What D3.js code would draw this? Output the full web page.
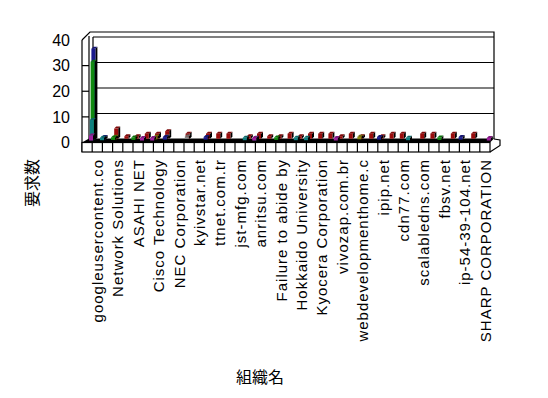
<!DOCTYPE html>
<html lang="ja">
<head>
<meta charset="UTF-8">
<title>組織名別 要求数</title>
<script src="https://cdn.jsdelivr.net/npm/d3@7"></script>
<style>
  body { margin: 0; background: #fff; }
  text { font-family: "Liberation Sans", Arial, sans-serif; fill: #000; }
  .jp { font-family: "Noto Sans CJK JP", sans-serif; }
</style>
</head>
<body>
<svg id="chart" width="548" height="398"></svg>
<script>
// labels shown under every other category (40 categories in total)
var tickLabels = ["googleusercontent.co", "Network Solutions", "ASAHI NET", "Cisco Technology",
  "NEC Corporation", "kyivstar.net", "ttnet.com.tr", "jst-mfg.com", "anritsu.com",
  "Failure to abide by", "Hokkaido University", "Kyocera Corporation", "vivozap.com.br",
  "webdevelopmenthome.c", "ipip.net", "cdn77.com", "scalabledns.com", "fbsv.net",
  "ip-54-39-104.net", "SHARP CORPORATION"];

// series, front row to back row
var series1 = [2,0,0,0,0,1,1,0,0,0, 0,0,0,0,0,0,1,0,0,0, 0,0,0,0,1,0,0,0,0,0, 0,0,0,0,0,0,0,0,0,1];
var series2 = [8,1,0,0,0,0,0,0,0,0, 0,0,0,0,0,1,1,0,0,0, 1,1,0,0,0,0,0,0,0,0, 0,1,0,0,0,0,0,0,0,0];
var series3 = [31,0,1,0,1,0,0,0,0,0, 0,0,0,0,0,0,0,0,1,0, 0,0,0,0,0,0,0,0,0,0, 0,0,0,0,1,0,0,0,0,0];
var series4 = [36,1,0,0,0,0,0,1,0,0, 0,1,0,0,0,0,0,0,0,0, 0,0,0,0,0,0,0,0,1,0, 0,0,0,0,0,0,1,0,0,0];
var series5 = [0,0,1,0,0,0,1,0,0,0, 0,0,0,0,0,0,0,0,0,0, 0,0,0,0,0,0,1,0,0,0, 0,0,0,0,0,0,0,0,0,0];
var series6 = [0,0,0,0,0,0,0,1,0,1, 0,0,0,0,0,0,0,0,0,0, 0,0,0,0,0,0,0,0,0,0, 0,0,0,0,0,0,0,0,0,0];
var series7 = [0,0,4,1,1,2,2,3,0,2, 0,2,2,2,0,1,2,1,1,2, 1,2,2,2,1,2,1,2,1,2, 2,0,2,2,0,2,0,2,0,0];

var allSeries = [series1, series2, series3, series4, series5, series6, series7];
var colors = ["#a0209f", "#0f8080", "#108a10", "#1a1a8c", "#8a8a10", "#858585", "#9a0c0c"];

var svg = d3.select("#chart");

var xs = d3.scaleBand().domain(d3.range(series1.length)).range([82, 490]);
var yFront = d3.scaleLinear().domain([0, 40]).range([142.5, 40]);
var yBack = d3.scaleLinear().domain([0, 40]).range([139, 37]);
var hBar = d3.scaleLinear().domain([0, 40]).range([0, 101]);

// walls
var g = svg.append("g").attr("fill", "none").attr("stroke", "#000").attr("stroke-width", 1.2);
g.append("path").attr("d", "M82,40 L90,32 L494,32 L494,139");
g.append("line").attr("x1", 82).attr("y1", 40).attr("x2", 82).attr("y2", 152);
g.append("line").attr("x1", 89).attr("y1", 36).attr("x2", 89).attr("y2", 142);
g.append("line").attr("x1", 93).attr("y1", 37).attr("x2", 93).attr("y2", 139);
g.selectAll(".side").data(yFront.ticks(4).slice(1, 4)).enter().append("line")
  .attr("x1", 82).attr("x2", 89).attr("y1", function(d) { return yFront(d); }).attr("y2", function(d) { return yFront(d); });
g.selectAll(".grid").data(yBack.ticks(4).slice(1)).enter().append("line")
  .attr("x1", 93).attr("x2", 494).attr("y1", function(d) { return yBack(d); }).attr("y2", function(d) { return yBack(d); });

// floor
svg.append("path").attr("d", "M89,138.5 L494,138.5 L490,142.5 L82,142.5 Z").attr("fill", "#000");
svg.append("rect").attr("x", 82).attr("y", 142.5).attr("width", 408).attr("height", 9.5)
  .attr("fill", "#fff").attr("stroke", "#000").attr("stroke-width", 1.2);
svg.selectAll(".cell").data(d3.range(1, series1.length)).enter().append("line")
  .attr("x1", function(d) { return xs(d); }).attr("x2", function(d) { return xs(d); })
  .attr("y1", 142.5).attr("y2", 152).attr("stroke", "#000").attr("stroke-width", 1.2);
svg.append("path").attr("d", "M490,152 L500,145.5 L500,140 L494,139").attr("fill", "none")
  .attr("stroke", "#000").attr("stroke-width", 1.2);

// bars, back row first
var bars = svg.append("g");
for (var s = allSeries.length - 1; s >= 0; s--) {
  allSeries[s].forEach(function(v, i) {
    if (!v) return;
    var bx = xs(i) + 7 + s * 0.8;
    var by = 140.5 - s * 0.3;
    var h = hBar(v);
    var c = d3.color(colors[s]);
    bars.append("path")
      .attr("d", "M" + (bx + 4) + "," + by + " L" + (bx + 6) + "," + (by - 2) + " L" + (bx + 6) + "," + (by - h - 2) +
        " L" + (bx + 4) + "," + (by - h) + " Z")
      .attr("fill", "#000");
    bars.append("path")
      .attr("d", "M" + bx + "," + (by - h) + " L" + (bx + 2) + "," + (by - h - 2) + " L" + (bx + 6) + "," + (by - h - 2) +
        " L" + (bx + 4) + "," + (by - h) + " Z")
      .attr("fill", c.darker(0.6));
    bars.append("rect").attr("x", bx).attr("y", by - h).attr("width", 4).attr("height", h)
      .attr("fill", colors[s]);
  });
}

// y axis labels
var yAxis = svg.append("g").attr("transform", "translate(82,0)")
  .call(d3.axisLeft(yFront).ticks(4).tickSize(0).tickPadding(12));
yAxis.select(".domain").remove();
yAxis.selectAll("text").style("font-size", "16px").style("font-family", "Liberation Sans, Arial, sans-serif");

// category labels
svg.selectAll(".lab").data(tickLabels).enter().append("text")
  .attr("transform", function(d, k) { return "translate(" + (xs(2 * k) + 15.5) + ",159) rotate(-90)"; })
  .attr("text-anchor", "end").attr("dy", "0.36em")
  .style("font-size", "15px").style("letter-spacing", "1px")
  .text(function(d) { return d; });

// titles
svg.append("text").attr("class", "jp").attr("transform", "translate(32,183) rotate(-90)")
  .attr("text-anchor", "middle").attr("dy", "0.35em").style("font-size", "16px").text("要求数");
svg.append("text").attr("class", "jp").attr("x", 260).attr("y", 377)
  .attr("text-anchor", "middle").attr("dy", "0.35em").style("font-size", "16px").text("組織名");
</script>
</body>
</html>
